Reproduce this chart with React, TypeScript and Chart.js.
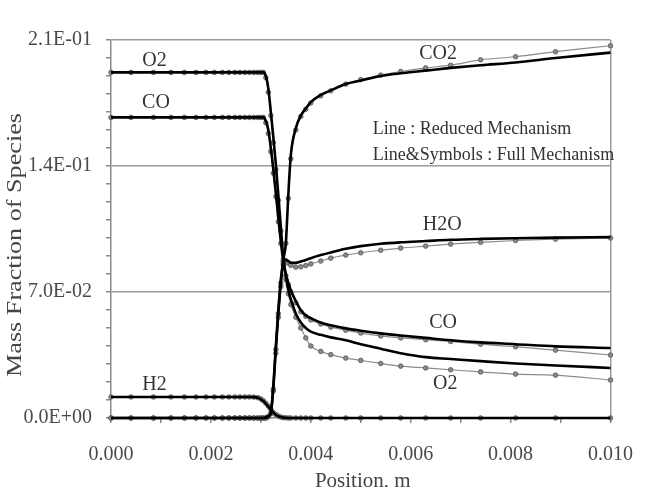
import React, { useEffect, useRef } from 'react';
import { Chart, registerables } from 'chart.js';

Chart.register(...registerables);

// Axial position (m) of the grid points
const POSITION_M = [
  0, 0.0004, 0.00085, 0.0012, 0.00147, 0.0017, 0.0019, 0.00207, 0.00223, 0.00236,
  0.00248, 0.00258, 0.00268, 0.00277, 0.00286, 0.00294, 0.003, 0.00305, 0.0031, 0.00315,
  0.0032, 0.00325, 0.0033, 0.00335, 0.0034, 0.00345, 0.0035, 0.00355, 0.0036, 0.0037,
  0.0038, 0.0039, 0.004, 0.0042, 0.0044, 0.0047, 0.005, 0.0054, 0.0058, 0.0063,
  0.0068, 0.0074, 0.0081, 0.0089, 0.01,
];

// Reduced mechanism (line only)
const O2_REDUCED = [
  0.192, 0.192, 0.192, 0.192, 0.192, 0.192, 0.192, 0.192, 0.192, 0.192,
  0.192, 0.192, 0.192, 0.192, 0.192, 0.192, 0.192, 0.192, 0.19, 0.183,
  0.17, 0.156, 0.141, 0.124, 0.106, 0.089, 0.079, 0.071, 0.066, 0.058,
  0.053, 0.05, 0.048, 0.0462, 0.0448, 0.0432, 0.041, 0.0385, 0.036, 0.0338,
  0.0328, 0.0316, 0.0303, 0.0292, 0.0278,
];
const CO_REDUCED = [
  0.167, 0.167, 0.167, 0.167, 0.167, 0.167, 0.167, 0.167, 0.167, 0.167,
  0.167, 0.167, 0.167, 0.167, 0.167, 0.167, 0.167, 0.167, 0.165, 0.16,
  0.15, 0.138, 0.125, 0.111, 0.098, 0.087, 0.08, 0.075, 0.071, 0.065,
  0.06, 0.057, 0.0555, 0.053, 0.0515, 0.0498, 0.0485, 0.047, 0.0458, 0.0445,
  0.0432, 0.042, 0.041, 0.0398, 0.0389,
];
const CO2_REDUCED = [
  0, 0, 0, 0, 0, 0, 0, 0, 0, 0,
  0, 0, 0, 0, 0, 0, 0, 0, 0.0005, 0.001,
  0.003, 0.018, 0.04, 0.06, 0.077, 0.088, 0.097, 0.124, 0.146, 0.161,
  0.168, 0.172, 0.1755, 0.1795, 0.182, 0.1855, 0.1875, 0.19, 0.1915, 0.193,
  0.1945, 0.196, 0.1975, 0.2, 0.203,
];
const H2O_REDUCED = [
  0, 0, 0, 0, 0, 0, 0, 0, 0, 0,
  0, 0, 0, 0, 0, 0, 0, 0, 0, 0.0008,
  0.0028, 0.017, 0.038, 0.058, 0.075, 0.086, 0.088, 0.0872, 0.0863, 0.0862,
  0.087, 0.0878, 0.0888, 0.0905, 0.092, 0.094, 0.0955, 0.0968, 0.0976, 0.0983,
  0.099, 0.0995, 0.0999, 0.1002, 0.1005,
];
const H2_REDUCED = [
  0.0117, 0.0117, 0.0117, 0.0117, 0.0117, 0.0117, 0.0117, 0.0117, 0.0117, 0.0117,
  0.0117, 0.0117, 0.0117, 0.0117, 0.0116, 0.0112, 0.0104, 0.0094, 0.008, 0.0063,
  0.0045, 0.003, 0.0018, 0.001, 0.0005, 0.0002, 0.0001, 0, 0, 0,
  0, 0, 0, 0, 0, 0, 0, 0, 0, 0,
  0, 0, 0, 0, 0,
];

// Full mechanism (line & symbols)
const O2_FULL = [
  0.192, 0.192, 0.192, 0.192, 0.192, 0.192, 0.192, 0.192, 0.192, 0.192,
  0.192, 0.192, 0.192, 0.192, 0.192, 0.192, 0.192, 0.192, 0.189, 0.181,
  0.168, 0.153, 0.138, 0.121, 0.104, 0.088, 0.077, 0.069, 0.063, 0.056,
  0.05, 0.0445, 0.04, 0.037, 0.0352, 0.0333, 0.032, 0.0303, 0.0288, 0.0278,
  0.0268, 0.0256, 0.0244, 0.0238, 0.0211,
];
const CO_FULL = [
  0.167, 0.167, 0.167, 0.167, 0.167, 0.167, 0.167, 0.167, 0.167, 0.167,
  0.167, 0.167, 0.167, 0.167, 0.167, 0.167, 0.167, 0.167, 0.164, 0.158,
  0.148, 0.136, 0.123, 0.109, 0.097, 0.086, 0.079, 0.074, 0.07, 0.064,
  0.059, 0.0565, 0.0545, 0.0522, 0.0505, 0.0488, 0.0472, 0.0456, 0.0445, 0.0435,
  0.0425, 0.041, 0.0396, 0.0377, 0.035,
];
const CO2_FULL = [
  0, 0, 0, 0, 0, 0, 0, 0, 0, 0,
  0, 0, 0, 0, 0, 0, 0, 0, 0, 0.0008,
  0.0025, 0.016, 0.038, 0.058, 0.075, 0.087, 0.097, 0.122, 0.144, 0.16,
  0.1675, 0.1715, 0.175, 0.179, 0.1818, 0.1855, 0.188, 0.1905, 0.1925, 0.1945,
  0.196, 0.199, 0.2007, 0.2035, 0.2068,
];
const H2O_FULL = [
  0, 0, 0, 0, 0, 0, 0, 0, 0, 0,
  0, 0, 0, 0, 0, 0, 0, 0, 0, 0.0007,
  0.0025, 0.015, 0.036, 0.056, 0.073, 0.085, 0.087, 0.086, 0.0848, 0.0838,
  0.084, 0.0847, 0.0856, 0.0872, 0.0888, 0.0905, 0.0918, 0.0932, 0.0944, 0.0955,
  0.0966, 0.0976, 0.0986, 0.0994, 0.1,
];
const H2_FULL = [
  0.0117, 0.0117, 0.0117, 0.0117, 0.0117, 0.0117, 0.0117, 0.0117, 0.0117, 0.0117,
  0.0117, 0.0117, 0.0117, 0.0117, 0.0116, 0.0113, 0.0106, 0.0096, 0.0082, 0.0065,
  0.0047, 0.0031, 0.0019, 0.0011, 0.0005, 0.0002, 0.0001, 0, 0, 0,
  0, 0, 0, 0, 0, 0, 0, 0, 0, 0,
  0, 0, 0, 0, 0,
];

const X_TICK_LABELS = ['0.000', '0.002', '0.004', '0.006', '0.008', '0.010'];
const Y_TICK_LABELS = ['0.0E+00', '7.0E-02', '1.4E-01', '2.1E-01'];
const X_TITLE = 'Position, m';
const Y_TITLE = 'Mass Fraction of Species';

// Species labels, placed in data units
const LABEL_TEXT = ['O2', 'CO', 'H2', 'CO2', 'H2O', 'CO', 'O2'];
const LABEL_X = [0.00087, 0.0009, 0.00087, 0.00655, 0.00663, 0.00665, 0.00669];
const LABEL_Y = [0.1983, 0.175, 0.0183, 0.2022, 0.1072, 0.0528, 0.0189];

const NOTE_LINES = ['Line : Reduced Mechanism', 'Line&Symbols : Full Mechanism'];
const NOTE_X = 0.00524;
const NOTE_Y = [0.1603, 0.1461];

const SERIF = '"Liberation Serif", "Times New Roman", Times, serif';

const pts = (ys: number[]) => POSITION_M.map((x, i) => ({ x, y: ys[i] }));

const reduced = (ys: number[]) => ({
  data: pts(ys),
  borderColor: '#000',
  borderWidth: 2.6,
  pointRadius: 0,
  cubicInterpolationMode: 'monotone' as const,
  clip: 8,
});
const full = (ys: number[]) => ({
  data: pts(ys),
  borderColor: '#8c8c8c',
  borderWidth: 1.2,
  pointRadius: 2.3,
  pointStyle: 'circle' as const,
  pointBackgroundColor: '#8a8a8a',
  pointBorderColor: '#555',
  pointBorderWidth: 0.8,
  cubicInterpolationMode: 'monotone' as const,
  clip: 8,
});

const textPlugin = {
  id: 'speciesText',
  afterDraw(chart: any) {
    const { ctx, chartArea } = chart;
    const xs = chart.scales.x;
    const ys = chart.scales.y;
    ctx.save();
    ctx.fillStyle = '#333';
    ctx.font = `20px ${SERIF}`;
    ctx.textAlign = 'center';
    ctx.textBaseline = 'middle';
    LABEL_TEXT.forEach((t, i) => {
      ctx.fillText(t, xs.getPixelForValue(LABEL_X[i]), ys.getPixelForValue(LABEL_Y[i]));
    });
    ctx.font = `18px ${SERIF}`;
    ctx.textAlign = 'left';
    NOTE_LINES.forEach((t, i) => {
      ctx.fillText(t, xs.getPixelForValue(NOTE_X), ys.getPixelForValue(NOTE_Y[i]));
    });
    // x title
    ctx.fillStyle = '#444';
    ctx.font = `21px ${SERIF}`;
    ctx.textAlign = 'center';
    ctx.textBaseline = 'alphabetic';
    ctx.fillText(X_TITLE, (chartArea.left + chartArea.right) / 2 + 2, chart.height);
    // y title
    ctx.translate(21, (chartArea.top + chartArea.bottom) / 2 + 16);
    ctx.rotate(-Math.PI / 2);
    ctx.font = `22px ${SERIF}`;
    const w = ctx.measureText(Y_TITLE).width;
    ctx.scale(264 / w, 1);
    ctx.fillText(Y_TITLE, 0, 0);
    ctx.restore();
  },
};

export default function App() {
  const ref = useRef<HTMLCanvasElement>(null);
  useEffect(() => {
    Chart.defaults.font.family = SERIF;
    const chart = new Chart(ref.current as HTMLCanvasElement, {
      type: 'line',
      data: {
        datasets: [
          reduced(O2_REDUCED),
          reduced(CO_REDUCED),
          reduced(CO2_REDUCED),
          reduced(H2O_REDUCED),
          reduced(H2_REDUCED),
          full(O2_FULL),
          full(CO_FULL),
          full(CO2_FULL),
          full(H2O_FULL),
          full(H2_FULL),
        ] as any,
      },
      options: {
        responsive: false,
        animation: false,
        events: [],
        layout: { padding: { top: 40, right: 23, bottom: 0, left: 0 } },
        plugins: { legend: { display: false }, tooltip: { enabled: false } },
        scales: {
          x: {
            type: 'linear',
            min: 0,
            max: 0.01,
            ticks: {
              stepSize: 0.001,
              autoSkip: false,
              maxRotation: 0,
              color: '#4a4a4a',
              padding: 20,
              font: { family: SERIF, size: 20 },
              callback: (_v: any, i: number) => (i % 2 === 0 ? X_TICK_LABELS[i / 2] : ''),
            },
            grid: {
              color: (c: any) => (c.index === 10 ? '#9a9a9a' : 'transparent'),
              tickColor: '#888',
              tickLength: 5,
              lineWidth: 1.5,
            },
            border: { color: '#8a8a8a', width: 1.5 },
            afterFit: (s: any) => {
              s.height = 69;
            },
          },
          y: {
            type: 'linear',
            min: 0,
            max: 0.21,
            ticks: {
              stepSize: 0.01,
              autoSkip: false,
              color: '#4a4a4a',
              padding: 14,
              font: { family: SERIF, size: 20 },
              callback: (_v: any, i: number) => (i % 7 === 0 ? Y_TICK_LABELS[i / 7] : ''),
            },
            grid: {
              color: (c: any) => (c.index % 7 === 0 && c.index > 0 ? '#9a9a9a' : 'transparent'),
              tickColor: '#888',
              tickLength: 5,
              lineWidth: 1.5,
            },
            border: { color: '#8a8a8a', width: 1.5 },
            afterFit: (s: any) => {
              s.width = 111;
            },
          },
        },
      } as any,
      plugins: [textPlugin],
    });
    return () => chart.destroy();
  }, []);
  return (
    <div style={{ position: 'absolute', left: 0, top: 0, width: 653, height: 487, background: '#fff' }}>
      <canvas ref={ref} width={653} height={487} style={{ display: 'block' }} />
    </div>
  );
}
